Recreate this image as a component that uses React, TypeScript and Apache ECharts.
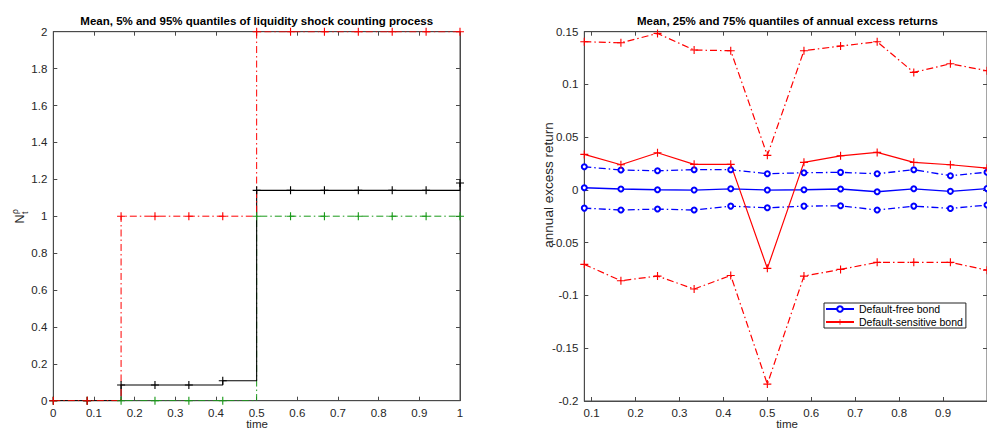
import React, { useEffect, useRef } from 'react';
import * as echarts from 'echarts';

// ---- data ----
const MONTHS = [0, 1, 2, 3, 4, 5, 6, 7, 8, 9, 10, 11, 12];
const LEFT_TIME = MONTHS.map((m) => m / 12);
const RIGHT_TIME = MONTHS.slice(1).map((m) => m / 12);

const LIQ_MEAN = [0, 0, 0.085, 0.085, 0.085, 0.108, 1.14, 1.14, 1.14, 1.14, 1.14, 1.14, 1.18];
const LIQ_Q05 = [0, 0, 0, 0, 0, 0, 1, 1, 1, 1, 1, 1, 1];
const LIQ_Q95 = [0, 0, 1, 1, 1, 1, 2, 2, 2, 2, 2, 2, 2];

const FREE_MEAN = [0.0021, 0.0009, 0.0002, -0.0001, 0.0011, -0.0001, 0.0002, 0.0009, -0.0017, 0.0011, -0.0013, 0.0013];
const FREE_Q75 = [0.022, 0.0189, 0.0182, 0.0192, 0.0192, 0.0154, 0.0163, 0.0167, 0.0154, 0.0192, 0.0135, 0.0168];
const FREE_Q25 = [-0.0172, -0.019, -0.0181, -0.019, -0.0153, -0.0169, -0.0153, -0.015, -0.019, -0.0153, -0.0175, -0.0143];
const SENS_MEAN = [0.0337, 0.0239, 0.0353, 0.0243, 0.0243, -0.0743, 0.0262, 0.0324, 0.0356, 0.0262, 0.0239, 0.0207];
const SENS_Q75 = [0.1405, 0.1395, 0.1484, 0.1326, 0.132, 0.0328, 0.132, 0.1364, 0.1405, 0.1114, 0.1196, 0.113];
const SENS_Q25 = [-0.0705, -0.086, -0.0816, -0.0939, -0.081, -0.184, -0.0816, -0.0753, -0.0686, -0.0686, -0.0686, -0.076];

const RIGHT_X_TICKS = [0.1, 0.2, 0.3, 0.4, 0.5, 0.6, 0.7, 0.8, 0.9];

const LEFT_TITLE = 'Mean, 5% and 95% quantiles of liquidity shock counting process';
const RIGHT_TITLE = 'Mean, 25% and 75% quantiles of annual excess returns';
const LEGEND_NAMES = ['Default-free bond', 'Default-sensitive bond'];

// ---- style ----
const FONT = 'Liberation Sans, Arial, Helvetica, sans-serif';
const AXIS_COLOR = '#4a4a4a';
const LABEL_COLOR = '#262626';
const PLUS = 'path://M4.3,0H5.7V4.3H10V5.7H5.7V10H4.3V5.7H0V4.3H4.3Z';
const DASHDOT = [7, 3, 1.5, 3];
const RED = '#ff0000';
const BLUE = '#0000ff';
const GREEN = '#1a9a1a';

function axisBase(extra: any, showLabel: boolean) {
  return {
    type: 'value',
    splitLine: { show: false },
    axisLine: { show: true, onZero: false, lineStyle: { color: AXIS_COLOR, width: 1 } },
    axisTick: { show: true, inside: true, length: 4, lineStyle: { color: AXIS_COLOR, width: 1 } },
    axisLabel: { show: showLabel, fontSize: 11.5, color: LABEL_COLOR, fontFamily: FONT, margin: 6 },
    ...extra,
  };
}

function pairs(xs: number[], ys: number[]) {
  return xs.map((x, i) => [x, ys[i]]);
}

export default function App() {
  const ref = useRef<HTMLDivElement>(null);
  useEffect(() => {
    const chart = echarts.init(ref.current!, null, { renderer: 'svg' });

    const rightXLabel = {
      fontSize: 11.5,
      color: LABEL_COLOR,
      fontFamily: FONT,
      margin: 6,
      customValues: RIGHT_X_TICKS,
      formatter: (v: number) => String(v),
    };
    const rightXTick = {
      show: true,
      inside: true,
      length: 4,
      customValues: RIGHT_X_TICKS,
      lineStyle: { color: AXIS_COLOR, width: 1 },
    };

    const option: any = {
      animation: false,
      backgroundColor: '#ffffff',
      grid: [
        { left: 53.3, top: 31.7, width: 406.7, height: 369, show: true, borderColor: AXIS_COLOR, borderWidth: 1, backgroundColor: 'transparent' },
        { left: 584.3, top: 31.7, width: 407, height: 369.3, show: true, borderColor: AXIS_COLOR, borderWidth: 1, backgroundColor: 'transparent' },
      ],
      xAxis: [
        axisBase({ gridIndex: 0, min: 0, max: 1, interval: 0.1, position: 'bottom' }, true),
        axisBase({ gridIndex: 1, min: 1 / 12, max: 1, position: 'bottom', axisLabel: rightXLabel, axisTick: rightXTick }, true),
        axisBase({ gridIndex: 0, min: 0, max: 1, interval: 0.1, position: 'top' }, false),
        axisBase({ gridIndex: 1, min: 1 / 12, max: 1, position: 'top', axisLabel: { show: false }, axisTick: rightXTick }, false),
      ],
      yAxis: [
        axisBase({ gridIndex: 0, min: 0, max: 2, interval: 0.2, position: 'left' }, true),
        axisBase({ gridIndex: 1, min: -0.2, max: 0.15, interval: 0.05, position: 'left' }, true),
        axisBase({ gridIndex: 0, min: 0, max: 2, interval: 0.2, position: 'right' }, false),
        axisBase({ gridIndex: 1, min: -0.2, max: 0.15, interval: 0.05, position: 'right' }, false),
      ],
      legend: {
        data: LEGEND_NAMES,
        orient: 'vertical',
        left: 824,
        top: 303,
        itemWidth: 28,
        itemHeight: 7,
        itemGap: 1,
        padding: [0, 3, 0, 1],
        borderColor: '#222',
        borderWidth: 1,
        backgroundColor: '#ffffff',
        selectedMode: false,
        textStyle: { fontSize: 10.5, color: '#000', fontFamily: FONT, lineHeight: 12 },
      },
      graphic: [
        { type: 'text', x: 256.7, y: 21, style: { text: LEFT_TITLE, font: `bold 11.5px ${FONT}`, fill: '#000', align: 'center', verticalAlign: 'middle' } },
        { type: 'text', x: 787.5, y: 21, style: { text: RIGHT_TITLE, font: `bold 11.5px ${FONT}`, fill: '#000', align: 'center', verticalAlign: 'middle' } },
        { type: 'text', x: 257, y: 424, style: { text: 'time', font: `11.5px ${FONT}`, fill: LABEL_COLOR, align: 'center', verticalAlign: 'middle' } },
        { type: 'text', x: 787, y: 424, style: { text: 'time', font: `11.5px ${FONT}`, fill: LABEL_COLOR, align: 'center', verticalAlign: 'middle' } },
        { type: 'text', x: 548, y: 185, rotation: Math.PI / 2, style: { text: 'annual excess return', font: `13.5px ${FONT}`, fill: LABEL_COLOR, align: 'center', verticalAlign: 'middle' } },
        {
          type: 'group',
          x: 20,
          y: 219,
          rotation: Math.PI / 2,
          children: [
            { type: 'text', x: 0, y: 0, style: { text: 'N', font: `12.5px ${FONT}`, fill: LABEL_COLOR, align: 'center', verticalAlign: 'middle' } },
            { type: 'text', x: 5, y: 5, style: { text: 't', font: `8.5px ${FONT}`, fill: LABEL_COLOR, align: 'left', verticalAlign: 'middle' } },
            { type: 'text', x: 5, y: -5.5, style: { text: 'ρ', font: `8.5px ${FONT}`, fill: LABEL_COLOR, align: 'left', verticalAlign: 'middle' } },
          ],
        },
      ],
      series: [
        // left chart
        {
          name: 'q05', type: 'line', xAxisIndex: 0, yAxisIndex: 0, step: 'end', silent: true,
          data: pairs(LEFT_TIME, LIQ_Q05), symbol: PLUS, symbolSize: 8,
          lineStyle: { color: GREEN, width: 1, type: DASHDOT }, itemStyle: { color: GREEN },
        },
        {
          name: 'mean', type: 'line', xAxisIndex: 0, yAxisIndex: 0, step: 'end', silent: true,
          data: pairs(LEFT_TIME, LIQ_MEAN), symbol: PLUS, symbolSize: 8,
          lineStyle: { color: '#000', width: 1.1 }, itemStyle: { color: '#000' },
        },
        {
          name: 'q95', type: 'line', xAxisIndex: 0, yAxisIndex: 0, step: 'end', silent: true,
          data: pairs(LEFT_TIME, LIQ_Q95), symbol: PLUS, symbolSize: 8,
          lineStyle: { color: RED, width: 1, type: DASHDOT }, itemStyle: { color: RED },
        },
        // right chart
        {
          name: 'free75', type: 'line', xAxisIndex: 1, yAxisIndex: 1, silent: true,
          data: pairs(RIGHT_TIME, FREE_Q75), symbol: 'emptyCircle', symbolSize: 5,
          lineStyle: { color: BLUE, width: 1.3, type: DASHDOT }, itemStyle: { color: BLUE, borderWidth: 1.3 },
        },
        {
          name: LEGEND_NAMES[0], type: 'line', xAxisIndex: 1, yAxisIndex: 1, silent: true,
          data: pairs(RIGHT_TIME, FREE_MEAN), symbol: 'emptyCircle', symbolSize: 5,
          lineStyle: { color: BLUE, width: 1.3 }, itemStyle: { color: BLUE, borderWidth: 1.3 },
        },
        {
          name: 'free25', type: 'line', xAxisIndex: 1, yAxisIndex: 1, silent: true,
          data: pairs(RIGHT_TIME, FREE_Q25), symbol: 'emptyCircle', symbolSize: 5,
          lineStyle: { color: BLUE, width: 1.3, type: DASHDOT }, itemStyle: { color: BLUE, borderWidth: 1.3 },
        },
        {
          name: 'sens75', type: 'line', xAxisIndex: 1, yAxisIndex: 1, silent: true,
          data: pairs(RIGHT_TIME, SENS_Q75), symbol: PLUS, symbolSize: 8,
          lineStyle: { color: RED, width: 1.2, type: DASHDOT }, itemStyle: { color: RED },
        },
        {
          name: LEGEND_NAMES[1], type: 'line', xAxisIndex: 1, yAxisIndex: 1, silent: true,
          data: pairs(RIGHT_TIME, SENS_MEAN), symbol: PLUS, symbolSize: 8,
          lineStyle: { color: RED, width: 1.2 }, itemStyle: { color: RED },
        },
        {
          name: 'sens25', type: 'line', xAxisIndex: 1, yAxisIndex: 1, silent: true,
          data: pairs(RIGHT_TIME, SENS_Q25), symbol: PLUS, symbolSize: 8,
          lineStyle: { color: RED, width: 1.2, type: DASHDOT }, itemStyle: { color: RED },
        },
      ],
    };

    chart.setOption(option);
    return () => chart.dispose();
  }, []);

  return (
    <div
      ref={ref}
      style={{ position: 'absolute', left: 0, top: 0, width: 987, height: 430, background: '#ffffff' }}
    />
  );
}
